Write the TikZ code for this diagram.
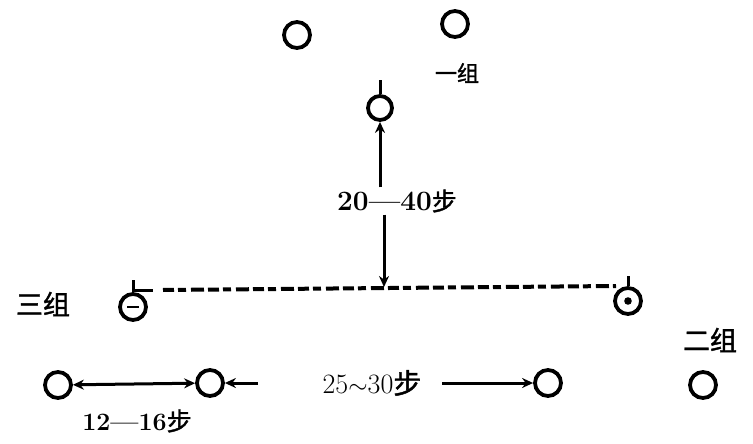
\documentclass[tikz,border=0pt]{standalone}
\usepackage{fontspec}
\usetikzlibrary{arrows.meta}
\newfontfamily\cjk[FakeBold=1.5]{Noto Sans CJK SC}
\begin{document}
\begin{tikzpicture}[x=1pt,y=-1pt,
  spot/.style={circle,draw,line width=3.8pt,minimum size=26pt,inner sep=0pt},
  con/.style={line width=3pt},
  tip/.style={-{Stealth[length=11pt,width=10pt]}},
  big/.style={font=\fontsize{28}{30}\selectfont\bfseries},
  mid/.style={font=\fontsize{28}{30}\selectfont},
  grp/.style={font=\fontsize{27}{30}\selectfont\cjk}]
\useasboundingbox (0,0) rectangle (753,444);
% top group
\node[spot] (t1) at (297,35) {};
\node[spot] (t2) at (455,24) {};
\node[spot,minimum size=24pt] (m) at (380,108) {};
\node[font=\fontsize{22}{24}\selectfont\cjk] (g1) at (457,73) {一组};
\draw[con] (m.north) -- ++(0,-14);
% vertical distance
\node[big,inner sep=2pt] (l1) at (397,201) {20---40{\cjk\mdseries\fontsize{25}{28}\selectfont 步}};
\coordinate (cd) at (384,287);
\draw[con,tip] (l1.north -| m) -- (m);
\draw[con,tip] (l1.south -| cd) -- (cd);
% middle line
\node[spot] (c3) at (133,307) {};
\draw[line width=2.4pt] ([xshift=-6pt]c3.center) -- ([xshift=6pt]c3.center);
\draw[con] (c3.north) -- ++(0,-12);
\coordinate (dl) at (135,290);
\coordinate (dm) at (153,290);
\coordinate (ds) at (163,290);
\coordinate (dr) at (616,286);
\draw[con] (dl) -- (dm);
\draw[line width=4pt,dash pattern=on 11pt off 4pt on 8pt off 5pt on 13pt off 4pt] (ds) -- (dr);
\node[spot] (c2) at (628,301) {};
\fill (c2.center) circle (3.8);
\draw[con] (c2.north) -- ++(0,-10);
\node[grp] (g3) at (43,304) {三组};
\node[grp] (g2) at (710,340) {二组};
% bottom row
\node[spot] (b1) at (58,385) {};
\node[spot] (b2) at (210,383) {};
\node[spot] (b3) at (548,383) {};
\node[spot] (b4) at (703,385) {};
\draw[con,{Stealth[length=11pt,width=10pt]}-{Stealth[length=11pt,width=10pt]}] (b1) -- (b2);
\node[font=\fontsize{25}{28}\selectfont\bfseries] (l2) at (137,421) {12---16{\cjk\mdseries 步}};
\coordinate (s1) at (258,383);
\draw[con,tip] (s1) -- (b2);
\node[mid] (l3) at (372,383) {25$\sim$30{\cjk 步}};
\coordinate (s2) at (442,383);
\draw[con,tip] (s2) -- (b3);
\end{tikzpicture}
\end{document}
